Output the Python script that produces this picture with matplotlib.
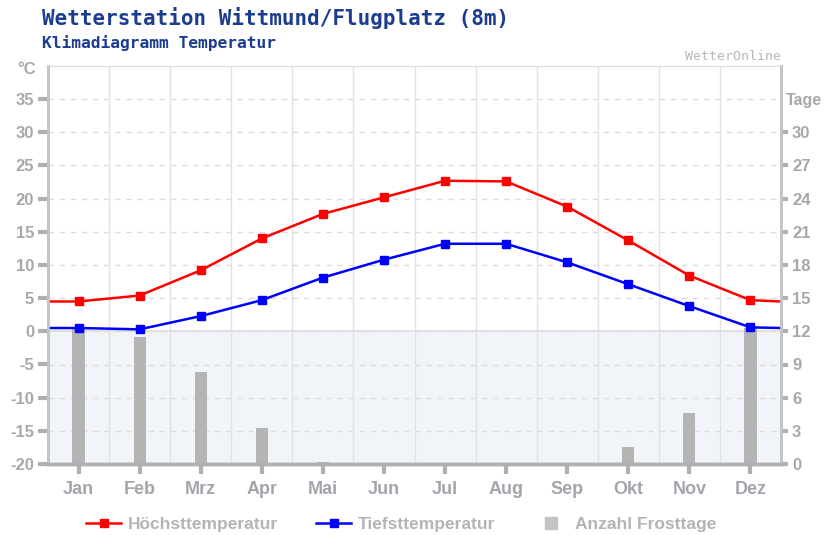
import matplotlib.pyplot as plt
from matplotlib.lines import Line2D

months = ['Jan', 'Feb', 'Mrz', 'Apr', 'Mai', 'Jun', 'Jul', 'Aug', 'Sep', 'Okt', 'Nov', 'Dez']
t_max = [4.5, 5.4, 9.2, 14.0, 17.7, 20.2, 22.7, 22.6, 18.8, 13.7, 8.4, 4.7]
t_min = [0.5, 0.3, 2.3, 4.7, 8.1, 10.8, 13.2, 13.2, 10.4, 7.1, 3.8, 0.6]
frost = [12.3, 11.5, 8.3, 3.3, 0.2, 0, 0, 0, 0, 1.5, 4.6, 12.3]
# values of the lines at the left / right plot border
t_max_edge = 4.5
t_min_edge = 0.5

grey = '#a8a8a8'
title_blue = '#1c3c8e'

fig = plt.figure(figsize=(8.24, 5.35), dpi=100)
ax2 = fig.add_axes([48/824, 71/535, 733/824, 398/535])
ax = ax2.twinx()
ax.set_zorder(ax2.get_zorder() + 1)
ax.patch.set_visible(False)

x = list(range(12))

# background, grid and frost days on the rear axes
ax2.set_ylim(0, 36)
ax2.set_xlim(-0.5, 11.5)
ax2.axhspan(0, 12, color='#f1f4f9', zorder=0)
for d in range(3, 34, 3):
    ax2.axhline(d, color='#dddddd', ls=(0, (4, 4)), lw=1, zorder=1)
for b in range(11):
    ax2.axvline(b + 0.5, color='#e2e2e2', lw=1, zorder=1)
ax2.axhline(12, color='#dddddd', lw=1.2, zorder=1)
ax2.bar(x, frost, width=0.2, color='#b4b4b4', zorder=2)

# temperature lines on the front axes
ax.set_ylim(-20, 40)
xs = [-0.5] + x + [11.5]
ax.plot(xs, [t_max_edge] + t_max + [t_max_edge], color='red', lw=1.8,
        marker='s', ms=6, markevery=list(range(1, 13)))
ax.plot(xs, [t_min_edge] + t_min + [t_min_edge], color='blue', lw=1.8,
        marker='s', ms=6, markevery=list(range(1, 13)))

# axis sides: temperatures left, days right
ax.yaxis.tick_left()
ax2.yaxis.tick_right()
ax.set_yticks(range(-20, 36, 5))
ax.set_yticklabels([str(v) for v in range(-20, 36, 5)])
ax2.set_yticks(range(0, 31, 3))
ax2.set_xticks(x)
ax2.set_xticklabels(months)
ax.tick_params(axis='x', bottom=False, labelbottom=False, top=False, labeltop=False)

for lab in ax.get_yticklabels() + ax2.get_yticklabels():
    lab.set_fontfamily('Liberation Sans')
    lab.set_fontweight('bold')
    lab.set_fontsize(12)
    lab.set_color(grey)
for lab in ax2.get_xticklabels():
    lab.set_fontfamily('Liberation Sans')
    lab.set_fontweight('bold')
    lab.set_fontsize(13)
    lab.set_color('#a4a4ac')
ax.tick_params(axis='y', length=7, width=3, color='#b0b0b0', pad=3)
ax2.tick_params(axis='y', length=5, width=3, color='#b0b0b0', pad=3)
ax2.tick_params(axis='x', length=7, width=3, color='#b0b0b0', pad=5)

for a in (ax, ax2):
    a.spines['top'].set_color('#dddddd')
    a.spines['left'].set_color('#c4c4c4')
    a.spines['left'].set_linewidth(2)
    a.spines['right'].set_color('#c4c4c4')
    a.spines['right'].set_linewidth(2)
    a.spines['bottom'].set_color('#b0b0b0')
    a.spines['bottom'].set_linewidth(2.5)

fig.text(42/824, 1 - 18/535, 'Wetterstation Wittmund/Flugplatz (8m)', color=title_blue,
         family='DejaVu Sans Mono', weight='bold', size=15, va='center')
fig.text(42/824, 1 - 43/535, 'Klimadiagramm Temperatur', color=title_blue,
         family='DejaVu Sans Mono', weight='bold', size=11.7, va='center')
fig.text(781/824, 1 - 57/535, 'WetterOnline', color='#b8b8b8',
         family='DejaVu Sans Mono', size=9.5, ha='right', va='center')
fig.text(36/824, 1 - 69/535, '°C', color=grey, family='Liberation Sans',
         weight='bold', size=12, ha='right', va='center')
fig.text(786/824, 1 - 100/535, 'Tage', color=grey, family='Liberation Sans',
         weight='bold', size=11.5, ha='left', va='center')

handles = [
    Line2D([], [], color='red', lw=1.8, marker='s', ms=6),
    Line2D([], [], color='blue', lw=1.8, marker='s', ms=6),
    Line2D([], [], color='#c4c4c4', lw=0, marker='s', ms=8),
]
leg = fig.legend(handles, ['Höchsttemperatur', 'Tiefsttemperatur', 'Anzahl Frosttage'],
                 loc='center', bbox_to_anchor=(0.487, 1 - 524/535), ncol=3, frameon=False,
                 prop=dict(family='Liberation Sans', weight='bold', size=12.5),
                 handlelength=2, columnspacing=2.2, handletextpad=0.4)
for t in leg.get_texts():
    t.set_color('#b4b4b4')

fig.savefig('out.png', dpi=100)
